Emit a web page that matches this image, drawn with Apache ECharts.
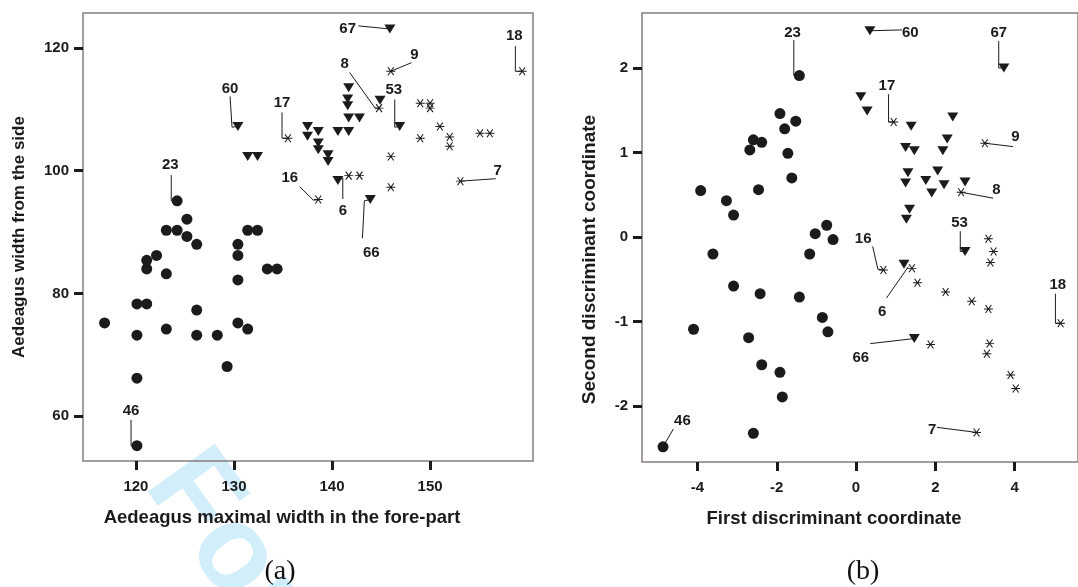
<!DOCTYPE html>
<html>
<head>
<meta charset="utf-8">
<script src="https://cdn.jsdelivr.net/npm/echarts@6/dist/echarts.min.js"></script>
<style>
html,body{margin:0;padding:0;background:#fff;}
#chart{width:1078px;height:587px;}
</style>
</head>
<body>
<div id="chart"></div>
<script>
// ---------- Panel (a) data ----------
const xTicksA = [120, 130, 140, 150];
const yTicksA = [60, 80, 100, 120];
const circlesA = [[124.2,95.1],[125.2,92.1],[123.1,90.3],[124.2,90.3],[125.2,89.3],[126.2,88.0],[130.4,88.0],[131.4,90.3],[132.4,90.3],[122.1,86.2],[121.1,85.4],[121.1,84.0],[123.1,83.2],[130.4,86.2],[130.4,82.2],[133.4,84.0],[134.4,84.0],[120.1,78.3],[121.1,78.3],[116.8,75.2],[126.2,77.3],[123.1,74.2],[120.1,73.2],[126.2,73.2],[128.3,73.2],[130.4,75.2],[131.4,74.2],[129.3,68.1],[120.1,66.2],[120.1,55.2]];
const trianglesA = [[130.4,107.2],[131.4,102.3],[132.4,102.3],[137.5,107.2],[137.5,105.6],[145.9,123.1],[141.7,113.5],[141.6,111.7],[141.6,110.6],[141.7,108.6],[142.8,108.6],[140.6,106.4],[141.7,106.4],[138.6,106.4],[138.6,104.5],[138.6,103.4],[139.6,102.6],[139.6,101.5],[140.6,98.4],[143.9,95.3],[144.9,111.5],[146.9,107.2]];
const starsA = [[135.5,105.3],[146.0,116.2],[159.4,116.2],[144.8,110.2],[149.0,111.0],[150.0,111.0],[150.0,110.2],[151.0,107.2],[149.0,105.3],[152.0,105.5],[152.0,104.0],[155.1,106.1],[156.1,106.1],[146.0,102.3],[146.0,97.3],[141.7,99.2],[142.8,99.2],[138.6,95.3],[153.1,98.3]];
const labelsA = [['23',123.5,101.0],['60',129.6,113.4],['17',134.9,111.1],['16',135.7,98.8],['6',141.1,93.4],['66',144.0,86.6],['67',141.6,123.1],['9',148.4,118.8],['8',141.3,117.4],['53',146.3,113.1],['18',158.6,122.0],['7',156.9,100.0],['46',119.5,60.9]];
const leadersA = [
  [[123.6,99.3],[123.6,95.1],[124.2,95.1]],
  [[129.6,112.1],[129.8,107.1],[130.4,107.2]],
  [[134.9,109.5],[134.9,105.3],[135.5,105.3]],
  [[136.7,97.4],[138.1,95.2],[138.6,95.3]],
  [[141.1,95.4],[141.1,98.8],[140.6,98.4]],
  [[143.1,89.0],[143.3,95.1],[143.9,95.3]],
  [[142.7,123.6],[145.9,123.1]],
  [[148.1,117.6],[146.0,116.2]],
  [[141.8,116.0],[144.4,110.2],[144.8,110.2]],
  [[146.4,111.6],[146.4,107.1],[146.9,107.2]],
  [[158.7,120.3],[158.7,116.2],[159.4,116.2]],
  [[156.7,98.7],[153.1,98.3]],
  [[119.5,59.4],[119.5,55.2],[120.1,55.2]]
];

// ---------- Panel (b) data ----------
const xTicksB = [-4, -2, 0, 2, 4];
const yTicksB = [-2, -1, 0, 1, 2];
const circlesB = [[-1.43,1.91],[-1.92,1.46],[-1.52,1.37],[-1.80,1.28],[-2.59,1.15],[-2.38,1.12],[-2.68,1.03],[-1.72,0.99],[-1.62,0.70],[-3.92,0.55],[-2.46,0.56],[-3.27,0.43],[-3.09,0.26],[-1.03,0.04],[-0.74,0.14],[-0.58,-0.03],[-3.61,-0.20],[-1.17,-0.20],[-3.09,-0.58],[-2.42,-0.67],[-1.43,-0.71],[-4.10,-1.09],[-0.85,-0.95],[-0.71,-1.12],[-2.71,-1.19],[-2.38,-1.51],[-1.92,-1.60],[-1.86,-1.89],[-2.59,-2.32],[-4.87,-2.48]];
const trianglesB = [[0.35,2.44],[3.73,2.00],[0.12,1.66],[0.28,1.49],[2.44,1.42],[1.39,1.31],[2.30,1.16],[1.25,1.06],[1.47,1.02],[2.19,1.02],[2.06,0.78],[1.31,0.76],[1.25,0.64],[1.76,0.67],[2.22,0.62],[2.75,0.65],[1.91,0.52],[1.35,0.33],[1.27,0.21],[2.75,-0.17],[1.21,-0.32],[1.47,-1.20]];
const starsB = [[0.95,1.36],[3.25,1.11],[2.65,0.53],[3.34,-0.02],[3.47,-0.17],[3.39,-0.30],[0.69,-0.39],[1.41,-0.37],[1.55,-0.54],[2.26,-0.65],[2.92,-0.76],[3.34,-0.85],[1.88,-1.27],[3.37,-1.26],[3.30,-1.38],[3.90,-1.63],[4.03,-1.79],[3.04,-2.31],[5.16,-1.02]];
const labelsB = [['23',-1.60,2.42],['60',1.37,2.42],['67',3.60,2.42],['17',0.78,1.79],['9',4.02,1.18],['8',3.54,0.56],['53',2.61,0.17],['16',0.18,-0.02],['6',0.66,-0.88],['66',0.12,-1.43],['7',1.92,-2.28],['18',5.09,-0.57],['46',-4.38,-2.17]];
const leadersB = [
  [[-1.57,2.33],[-1.57,1.91],[-1.43,1.91]],
  [[1.16,2.45],[0.35,2.44]],
  [[3.60,2.32],[3.60,2.00],[3.73,2.00]],
  [[0.82,1.69],[0.82,1.36],[0.95,1.36]],
  [[3.96,1.07],[3.25,1.11]],
  [[3.46,0.46],[2.65,0.53]],
  [[2.63,0.07],[2.63,-0.17],[2.75,-0.17]],
  [[0.42,-0.11],[0.55,-0.38],[0.69,-0.39]],
  [[0.77,-0.72],[1.32,-0.35]],
  [[0.36,-1.26],[1.47,-1.20]],
  [[2.04,-2.25],[3.04,-2.31]],
  [[5.03,-0.67],[5.03,-1.02],[5.16,-1.02]],
  [[-4.61,-2.27],[-4.87,-2.48]]
];

const titleXA = 'Aedeagus maximal width in the fore-part';
const titleYA = 'Aedeagus width from the side';
const titleXB = 'First discriminant coordinate';
const titleYB = 'Second discriminant coordinate';

// ---------- styling ----------
const INK = '#1b1b1b';
const BOX = '#877d7d';
const FONT = '"Liberation Sans", Arial, sans-serif';
const STAR = 'path://M0 4L9 4M1.6 0L7.4 8M7.4 0L1.6 8';

function valueAxis(gi, min, max, ticks, name, gap, isX, nameSize, namePad) {
  return {
    type: 'value', gridIndex: gi, min: min, max: max,
    name: name, nameLocation: 'middle', nameGap: gap,
    nameTextStyle: { fontFamily: FONT, fontWeight: 'bold', fontSize: nameSize, color: INK, padding: namePad },
    axisLine: { show: false, onZero: false },
    splitLine: { show: false },
    axisTick: { show: true, inside: false, length: 9, customValues: ticks, lineStyle: { color: INK, width: 3 } },
    axisLabel: { show: true, customValues: ticks, margin: isX ? 18 : 14, fontFamily: FONT, fontWeight: 'bold', fontSize: 15, color: INK, showMinLabel: true, showMaxLabel: true }
  };
}

function markSeries(kind, data, xi) {
  const s = { type: 'scatter', xAxisIndex: xi, yAxisIndex: xi, data: data, z: 5, silent: true };
  if (kind === 'circle') {
    s.symbol = 'circle'; s.symbolSize = 11; s.itemStyle = { color: INK, opacity: 1 };
  } else if (kind === 'tri') {
    s.symbol = 'triangle'; s.symbolSize = [11, 9]; s.symbolRotate = 180; s.itemStyle = { color: INK, opacity: 1 };
  } else {
    s.symbol = STAR; s.symbolSize = [9, 8];
    s.itemStyle = { color: 'rgba(0,0,0,0)', borderColor: INK, borderWidth: 1, opacity: 1 };
  }
  return s;
}

function leaderSeries(paths, xi) {
  return {
    type: 'lines', coordinateSystem: 'cartesian2d', xAxisIndex: xi, yAxisIndex: xi,
    polyline: true, silent: true, z: 4,
    lineStyle: { color: INK, width: 1, opacity: 1 },
    data: paths.map(p => ({ coords: p }))
  };
}

function labelSeries(labels, xi) {
  return {
    type: 'scatter', xAxisIndex: xi, yAxisIndex: xi, symbolSize: 1, silent: true, z: 6,
    itemStyle: { color: 'rgba(0,0,0,0)', opacity: 1 },
    label: { show: true, position: 'inside', formatter: '{b}', fontFamily: FONT, fontWeight: 'bold', fontSize: 15, color: INK },
    data: labels.map(l => ({ name: l[0], value: [l[1], l[2]] }))
  };
}

const chart = echarts.init(document.getElementById('chart'), null, { renderer: 'canvas' });
chart.setOption({
  animation: false,
  backgroundColor: '#ffffff',
  grid: [
    { left: 83, top: 13, width: 450, height: 448, show: true, borderColor: BOX, borderWidth: 1.5, backgroundColor: 'rgba(0,0,0,0)' },
    { left: 642, top: 13, width: 454, height: 449, show: true, borderColor: BOX, borderWidth: 1.5, backgroundColor: 'rgba(0,0,0,0)' }
  ],
  xAxis: [
    valueAxis(0, 114.6, 160.5, xTicksA, titleXA, 47, true, 18.5, [0, 52, 0, 0]),
    valueAxis(1, -5.4, 5.6, xTicksB, titleXB, 47, true, 18.5, [0, 52, 0, 0])
  ],
  yAxis: [
    valueAxis(0, 52.7, 125.7, yTicksA, titleYA, 55, false, 17, 0),
    valueAxis(1, -2.66, 2.65, yTicksB, titleYB, 43, false, 19, [0, 44, 0, 0])
  ],
  graphic: [
    { type: 'text', x: 121, y: 501, rotation: -0.95, z: -10, silent: true,
      style: { text: 'For Review Only', fill: '#d3eefb', font: 'bold 120px "Liberation Sans", Arial, sans-serif', textAlign: 'left', textVerticalAlign: 'bottom' } },
    { type: 'text', x: 280, y: 572, z: 10, silent: true,
      style: { text: '(a)', fill: '#111', font: '28px "Liberation Serif", "DejaVu Serif", serif', textAlign: 'center', textVerticalAlign: 'middle' } },
    { type: 'text', x: 863, y: 572, z: 10, silent: true,
      style: { text: '(b)', fill: '#111', font: '28px "Liberation Serif", "DejaVu Serif", serif', textAlign: 'center', textVerticalAlign: 'middle' } }
  ],
  series: [
    leaderSeries(leadersA, 0),
    markSeries('circle', circlesA, 0),
    markSeries('tri', trianglesA, 0),
    markSeries('star', starsA, 0),
    labelSeries(labelsA, 0),
    leaderSeries(leadersB, 1),
    markSeries('circle', circlesB, 1),
    markSeries('tri', trianglesB, 1),
    markSeries('star', starsB, 1),
    labelSeries(labelsB, 1)
  ]
});
</script>
</body>
</html>
